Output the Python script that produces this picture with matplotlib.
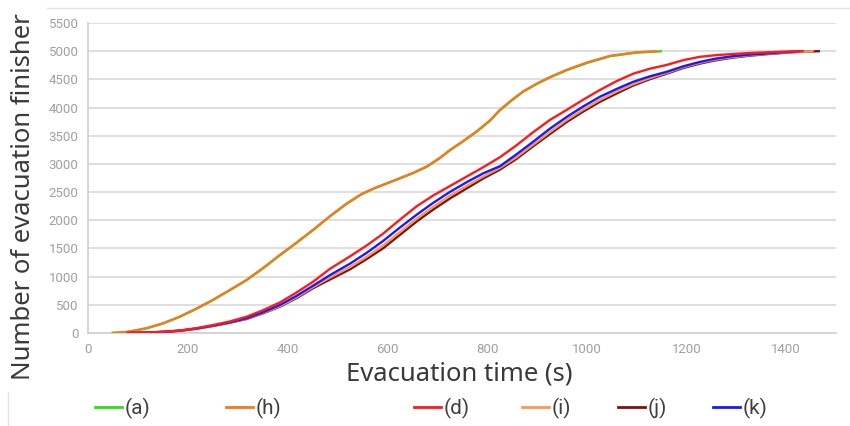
import matplotlib
matplotlib.use("Agg")
import matplotlib.pyplot as plt
from matplotlib.lines import Line2D

# ---- data ----
t_a = [47, 80, 117, 150, 184, 217, 250, 284, 318, 351, 385, 418, 451, 485, 518, 548, 575, 610, 650, 679,
       705, 726, 752, 779, 805, 826, 850, 872, 900, 926, 960, 1000, 1047, 1100, 1151]
n_a = [0, 20, 83, 170, 289, 430, 585, 760, 940, 1150, 1383, 1600, 1826, 2070, 2290, 2460, 2570, 2690, 2830, 2949,
       3100, 3245, 3400, 3570, 3760, 3954, 4130, 4279, 4420, 4534, 4663, 4790, 4911, 4975, 5000]
t_h = [47, 80, 117, 150, 184, 217, 250, 284, 318, 351, 385, 418, 451, 485, 518, 548, 575, 610, 650, 679,
       705, 726, 752, 779, 805, 826, 850, 872, 900, 926, 960, 1000, 1047, 1100, 1143]
n_h = [0, 21, 85, 172, 292, 433, 588, 764, 945, 1156, 1390, 1606, 1832, 2076, 2296, 2466, 2575, 2694, 2835, 2955,
       3106, 3250, 3406, 3578, 3766, 3960, 4136, 4285, 4426, 4540, 4670, 4798, 4918, 4980, 5000]

t_dk = [77, 120, 150, 184, 217, 250, 284, 318, 351, 385, 418, 451, 485, 525, 558, 591, 625, 659, 692, 726,
        760, 792, 826, 859, 892, 926, 960, 993, 1026, 1060, 1093, 1127, 1160, 1193, 1227, 1260, 1293, 1327, 1361, 1395]

t_d = t_dk + [1435]
n_d = [0, 8, 22, 44, 85, 140, 205, 290, 405, 545, 720, 910, 1140, 1360, 1550, 1760, 2010, 2250, 2440, 2610,
       2780, 2940, 3120, 3330, 3560, 3780, 3960, 4140, 4310, 4470, 4600, 4690, 4755, 4840, 4900, 4930, 4950, 4968, 4980, 4992, 5000]

t_k = t_dk + [1428]
n_k = [0, 8, 20, 41, 80, 130, 190, 262, 370, 500, 660, 840, 1028, 1230, 1420, 1630, 1870, 2100, 2310, 2506,
       2680, 2832, 2960, 3170, 3390, 3625, 3835, 4020, 4190, 4330, 4456, 4555, 4633, 4730, 4810, 4870, 4911, 4940, 4959, 4982, 5000]

t_j = t_dk + [1430, 1468]
n_j = [0, 7, 19, 40, 76, 125, 182, 250, 350, 470, 620, 795, 950, 1130, 1310, 1500, 1740, 1980, 2190, 2390,
       2570, 2740, 2900, 3090, 3310, 3530, 3745, 3930, 4100, 4250, 4390, 4505, 4600, 4700, 4780, 4840, 4885, 4920, 4947, 4970, 4990, 5000]

t_i = t_dk + [1455]
n_i = [0, 7, 19, 40, 78, 127, 185, 255, 358, 480, 635, 815, 985, 1170, 1350, 1550, 1790, 2030, 2240, 2440,
       2615, 2775, 2930, 3120, 3340, 3565, 3780, 3965, 4135, 4285, 4415, 4525, 4615, 4715, 4795, 4855, 4895, 4930, 4952, 4975, 5000]

series = [
    ("(a)", t_a, n_a, "#33dd1a"),
    ("(h)", t_h, n_h, "#f47920"),
    ("(d)", t_d, n_d, "#ff1a1a"),
    ("(i)", t_i, n_i, "#f59a5a"),
    ("(j)", t_j, n_j, "#7f1010"),
    ("(k)", t_k, n_k, "#1a1aff"),
]
x_ticks = [0, 200, 400, 600, 800, 1000, 1200, 1400]
y_ticks = list(range(0, 5501, 500))

W, H = 850, 426
fig = plt.figure(figsize=(W / 100, H / 100), dpi=100)
fig.patch.set_facecolor("white")

ax = fig.add_axes([88.3 / W, 1 - 333 / H, (836 - 88.3) / W, (333 - 23) / H])

lines = {}
for lab, t, n, c in series:
    ln, = ax.plot(t, n, color=c, lw=1.7, solid_capstyle="butt", solid_joinstyle="round")
    lines[lab] = ln
zo = {"(a)": 2, "(h)": 3, "(j)": 4, "(i)": 5, "(k)": 6, "(d)": 7}
for k, v in zo.items():
    lines[k].set_zorder(v)

ax.set_xlim(0, 1500)
ax.set_ylim(0, 5500)
ax.set_xticks(x_ticks)
ax.set_yticks(y_ticks)
ax.grid(axis="y", color="#d9d9d9", lw=1.2)
ax.set_axisbelow(True)
for s in ["top", "right"]:
    ax.spines[s].set_visible(False)
for s in ["left", "bottom"]:
    ax.spines[s].set_color("#d0d0d0")
    ax.spines[s].set_linewidth(1.2)
tick_font = ["Liberation Sans Narrow", "Roboto", "DejaVu Sans"]
ax.tick_params(length=0, colors="#9a9a9a", labelsize=9.5, pad=7)
for lbl in ax.get_xticklabels() + ax.get_yticklabels():
    lbl.set_family(tick_font)
    lbl.set_color("#a0a0a0")

label_font = ["Noto Sans", "DejaVu Sans"]
fig.text(24 / W, 1 - 197 / H, "Number of evacuation finisher", rotation=90,
         ha="center", va="center", fontsize=18.5, color="#3a3a3a", family=label_font)
fig.text(459 / W, 1 - 374 / H, "Evacuation time (s)", ha="center", va="center",
         fontsize=18.5, color="#3a3a3a", family=label_font)

# legend entries
leg_x = {"(a)": 96, "(h)": 227, "(d)": 415, "(i)": 523, "(j)": 619, "(k)": 714}
for lab, t, n, c in series:
    h = Line2D([], [], color=c, lw=2)
    fig.legend(handles=[h], labels=[lab], loc="center left",
               bbox_to_anchor=(leg_x[lab] / W - 0.011, 1 - 408 / H), frameon=False,
               handlelength=1.3, handletextpad=0.1, borderaxespad=0,
               prop={"family": tick_font, "size": 15}, labelcolor="#404040")

# chart frame remnants
fig.add_artist(Line2D([47 / W, 1.0], [1 - 7.5 / H, 1 - 7.5 / H], color="#e3e3e3", lw=1))
fig.add_artist(Line2D([8 / W, 8 / W], [0, 1 - 392 / H], color="#e3e3e3", lw=1))

fig.savefig("out.png", dpi=100, facecolor="white")
